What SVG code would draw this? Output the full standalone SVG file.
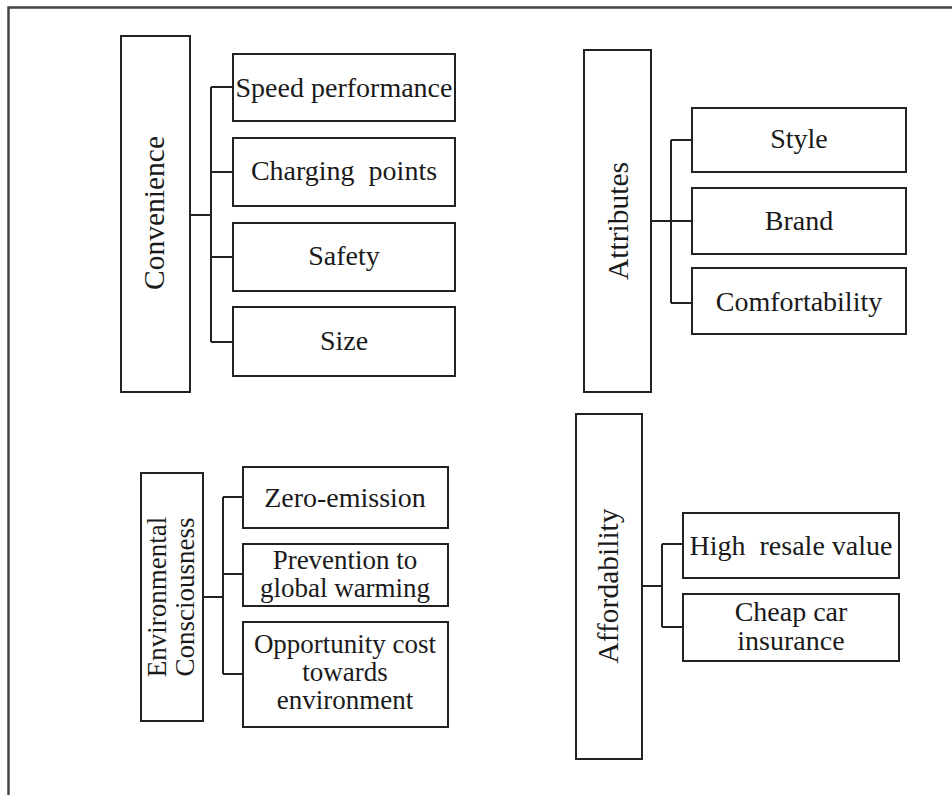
<svg xmlns="http://www.w3.org/2000/svg" width="952" height="795" viewBox="0 0 952 795">
<style>
.box{fill:#fff;stroke:#222;stroke-width:2}
.ln{fill:none;stroke:#222;stroke-width:2}
text{font-family:'Liberation Serif','Times New Roman','DejaVu Serif',serif;fill:#1a1a1a;font-size:28px;text-anchor:middle}
.v{font-size:29.5px}
.e{font-size:27px}
.m{font-size:27px}
.c{font-size:28px}
</style>
<rect width="952" height="795" fill="#fff"/>
<path d="M8.5,795 V7.5 H952" fill="none" stroke="#444" stroke-width="2.5"/>
<g id="connectors">
<path class="ln" d="M190,215 H211 M211,87 V342 M211,87 H233 M211,172 H233 M211,257 H233 M211,342 H233"/>
<path class="ln" d="M651,221 H671 M671,140 V303 M671,140 H692 M671,221 H692 M671,303 H692"/>
<path class="ln" d="M203,597 H223 M223,497 V674 M223,497 H243 M223,574 H243 M223,674 H243"/>
<path class="ln" d="M642,586 H662 M662,544 V627 M662,544 H683 M662,627 H683"/>
</g>
<g id="convenience">
<rect class="box" x="121" y="36" width="69" height="356"/>
<text class="v" transform="translate(164,213) rotate(-90)">Convenience</text>
</g>
<g id="speed"><rect class="box" x="233" y="54" width="222" height="67"/><text x="344" y="97">Speed performance</text></g>
<g id="charging"><rect class="box" x="233" y="138" width="222" height="68"/><text x="344" y="180" xml:space="preserve">Charging  points</text></g>
<g id="safety"><rect class="box" x="233" y="223" width="222" height="68"/><text x="344" y="265">Safety</text></g>
<g id="size"><rect class="box" x="233" y="307" width="222" height="69"/><text x="344" y="350">Size</text></g>
<g id="attributes">
<rect class="box" x="584" y="50" width="67" height="342"/>
<text class="v" transform="translate(628,221) rotate(-90)">Attributes</text>
</g>
<g id="style"><rect class="box" x="692" y="108" width="214" height="64"/><text x="799" y="148">Style</text></g>
<g id="brand"><rect class="box" x="692" y="188" width="214" height="66"/><text x="799" y="230">Brand</text></g>
<g id="comfort"><rect class="box" x="692" y="268" width="214" height="66"/><text x="799" y="311">Comfortability</text></g>
<g id="environmental">
<rect class="box" x="141" y="473" width="62" height="248"/>
<text class="e" transform="translate(166,597) rotate(-90)">Environmental</text>
<text class="e" transform="translate(194,597) rotate(-90)">Consciousness</text>
</g>
<g id="zero"><rect class="box" x="243" y="467" width="205" height="61"/><text x="345" y="507">Zero-emission</text></g>
<g id="prevention"><rect class="box" x="243" y="544" width="205" height="62"/><text class="m" x="345" y="569">Prevention to</text><text class="m" x="345" y="597">global warming</text></g>
<g id="opportunity"><rect class="box" x="243" y="622" width="205" height="105"/><text class="m" x="345" y="653">Opportunity cost</text><text class="m" x="345" y="681">towards</text><text class="m" x="345" y="709">environment</text></g>
<g id="affordability">
<rect class="box" x="576" y="414" width="66" height="345"/>
<text class="v" transform="translate(618,586) rotate(-90)">Affordability</text>
</g>
<g id="resale"><rect class="box" x="683" y="513" width="216" height="65"/><text x="791" y="555" xml:space="preserve">High  resale value</text></g>
<g id="insurance"><rect class="box" x="683" y="594" width="216" height="67"/><text class="c" x="791" y="621">Cheap car</text><text class="c" x="791" y="650">insurance</text></g>
</svg>
